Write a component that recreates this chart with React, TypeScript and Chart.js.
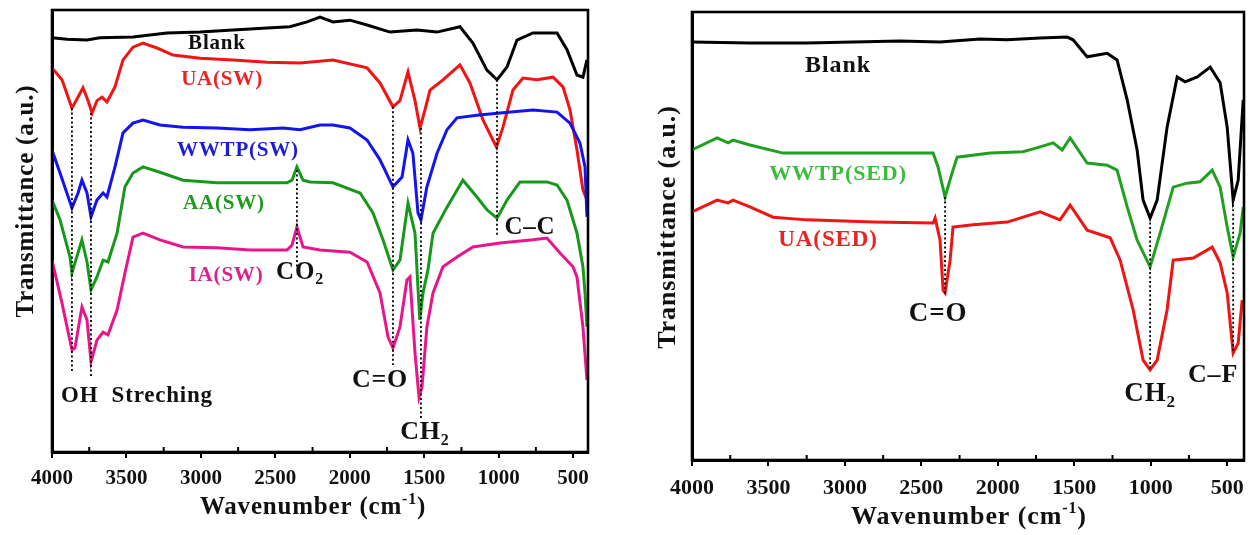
import React, { useEffect, useRef } from "react";
import { Chart, registerables } from "chart.js";

Chart.register(...registerables);

type Pt = [number, number];

// x-axis ticks (wavenumber, cm-1)
const X_MAJOR_TICKS = [500, 1000, 1500, 2000, 2500, 3000, 3500, 4000];
const X_MINOR_TICKS = [750, 1250, 1750, 2250, 2750, 3250, 3750];

// ---------- Left panel: sea-water samples  [wavenumber, transmittance (a.u.)] ----------
const SW_BLANK: Pt[] = [
  [4000, 93.7], [3899, 93.4], [3765, 93.2], [3678, 93.7], [3456, 93.9], [3228, 94.8], [3006, 95.0],
  [2784, 95.5], [2556, 95.9], [2402, 96.2], [2287, 97.3], [2200, 98.4], [2113, 97.3], [1999, 97.7],
  [1884, 96.6], [1730, 95.0], [1549, 95.5], [1414, 95.0], [1260, 96.2], [1173, 92.5], [1079, 86.4],
  [1011, 84.2], [944, 87.1], [877, 93.2], [770, 94.8], [608, 94.8], [541, 91.0], [474, 85.3],
  [434, 84.8], [407, 88.7],
];
const SW_UA: Pt[] = [
  [4000, 86.9], [3933, 84.2], [3866, 77.8], [3825, 80.3], [3792, 82.4], [3758, 79.5], [3731, 76.7],
  [3698, 79.5], [3664, 80.3], [3631, 79.2], [3577, 82.6], [3523, 88.7], [3456, 91.6], [3389, 92.5],
  [3295, 91.4], [3187, 89.8], [3006, 89.1], [2784, 88.7], [2556, 88.2], [2334, 88.0], [2113, 88.7],
  [1884, 86.9], [1797, 83.5], [1710, 78.1], [1663, 79.5], [1609, 86.0], [1562, 79.5], [1528, 73.3],
  [1495, 77.4], [1461, 81.9], [1374, 84.2], [1260, 87.6], [1193, 83.5], [1105, 75.1], [1015, 69.0],
  [971, 73.5], [904, 81.9], [837, 84.6], [743, 84.2], [635, 84.8], [568, 82.6], [521, 77.4],
  [474, 68.3], [434, 59.3], [407, 57.0],
];
const SW_WWTP: Pt[] = [
  [4000, 68.3], [3946, 63.1], [3866, 55.2], [3825, 58.6], [3799, 61.5], [3765, 58.6], [3738, 53.2],
  [3698, 57.0], [3657, 58.6], [3631, 57.7], [3577, 64.5], [3523, 72.2], [3456, 74.4], [3389, 75.1],
  [3275, 74.0], [3120, 73.5], [2892, 73.3], [2670, 72.9], [2449, 73.3], [2334, 72.9], [2200, 74.0],
  [2113, 74.0], [1999, 73.3], [1884, 70.6], [1797, 66.1], [1710, 60.0], [1649, 62.2], [1609, 70.6],
  [1576, 67.6], [1542, 54.1], [1522, 52.5], [1482, 60.0], [1414, 67.6], [1347, 72.9], [1280, 75.6],
  [1146, 76.2], [991, 76.7], [770, 77.4], [608, 76.9], [521, 74.4], [454, 69.9], [420, 64.5],
  [407, 53.2],
];
const SW_AA: Pt[] = [
  [4000, 57.0], [3946, 52.5], [3879, 44.1], [3866, 40.5], [3799, 48.0], [3765, 43.0], [3738, 36.7],
  [3698, 39.6], [3657, 43.4], [3624, 43.0], [3563, 49.5], [3510, 60.0], [3456, 63.1], [3389, 64.5],
  [3275, 63.3], [3120, 61.5], [2892, 60.9], [2670, 60.9], [2422, 60.9], [2388, 61.5], [2355, 64.5],
  [2314, 61.5], [2267, 61.1], [2113, 60.9], [1931, 58.6], [1844, 54.1], [1777, 48.0], [1710, 41.2],
  [1663, 43.4], [1609, 56.3], [1562, 49.5], [1530, 29.9], [1508, 36.0], [1475, 41.2], [1441, 49.5],
  [1347, 55.4], [1240, 61.5], [1146, 57.7], [1079, 54.8], [1011, 52.9], [944, 57.0], [857, 61.1],
  [770, 61.1], [676, 61.1], [608, 60.4], [541, 57.0], [474, 49.5], [434, 41.9], [420, 36.0],
  [407, 28.3],
];
const SW_IA: Pt[] = [
  [4000, 43.4], [3933, 33.7], [3866, 23.1], [3846, 23.5], [3799, 32.8], [3765, 29.9], [3738, 20.4],
  [3698, 25.3], [3657, 27.1], [3624, 26.5], [3563, 32.1], [3510, 40.5], [3456, 48.6], [3389, 49.5],
  [3275, 48.0], [3120, 46.4], [2892, 46.2], [2670, 45.7], [2422, 45.7], [2388, 46.8], [2355, 50.9],
  [2314, 46.4], [2200, 45.7], [1999, 45.2], [1884, 43.0], [1797, 36.0], [1743, 26.0], [1710, 23.5],
  [1663, 28.3], [1616, 38.9], [1596, 39.6], [1562, 22.4], [1535, 12.4], [1515, 14.7], [1482, 28.3],
  [1441, 36.0], [1374, 41.9], [1280, 44.1], [1173, 46.4], [991, 47.3], [770, 48.0], [676, 48.4],
  [588, 45.0], [501, 41.9], [474, 39.6], [434, 28.3], [407, 16.3],
];
// dotted peak markers: wavenumber, top and bottom transmittance
const SW_MARK_WN = [3866, 3738, 2355, 1710, 1522, 1011];
const SW_MARK_TOP = [77.8, 76.7, 63.8, 78.1, 73.3, 84.2];
const SW_MARK_BOTTOM = [17.9, 16.7, 41.9, 19.7, 7.7, 48.6];

// ---------- Right panel: sediment samples ----------
const SED_BLANK: Pt[] = [
  [4000, 93.3], [3621, 93.1], [3248, 93.1], [2639, 93.5], [2378, 93.3], [2116, 94.0], [1939, 93.8],
  [1723, 94.2], [1547, 94.4], [1508, 93.8], [1416, 90.0], [1285, 90.8], [1220, 89.3], [1154, 80.4],
  [1089, 69.2], [1050, 58.0], [1004, 54.0], [958, 58.0], [893, 74.3], [827, 85.5], [775, 84.4],
  [696, 85.5], [611, 87.7], [546, 84.2], [500, 74.3], [461, 58.0], [428, 62.5], [402, 76.6],
  [395, 80.4],
];
const SED_WWTP: Pt[] = [
  [4000, 69.2], [3836, 71.9], [3764, 70.8], [3732, 71.4], [3621, 70.3], [3405, 68.5], [3078, 68.5],
  [2423, 68.5], [2391, 65.4], [2345, 58.7], [2299, 64.1], [2266, 67.6], [2050, 68.5], [1835, 68.8],
  [1723, 69.9], [1638, 70.8], [1579, 69.2], [1527, 71.9], [1416, 66.3], [1285, 65.8], [1220, 64.7],
  [1154, 56.5], [1089, 49.1], [1004, 43.1], [938, 50.7], [853, 60.9], [762, 61.8], [677, 62.1],
  [598, 64.7], [546, 60.9], [500, 52.0], [461, 45.3], [415, 50.7], [395, 56.5],
];
const SED_UA: Pt[] = [
  [4000, 55.4], [3836, 58.0], [3764, 57.4], [3732, 58.0], [3621, 56.5], [3470, 54.2], [3248, 53.6],
  [2816, 53.1], [2423, 52.9], [2410, 54.0], [2378, 49.1], [2358, 37.9], [2345, 37.3], [2312, 44.6],
  [2293, 52.0], [2162, 52.5], [1939, 53.1], [1723, 55.4], [1593, 53.6], [1527, 56.9], [1416, 51.3],
  [1265, 49.6], [1200, 44.6], [1115, 33.5], [1050, 22.3], [1004, 20.1], [958, 22.3], [893, 33.5],
  [853, 44.6], [722, 45.1], [598, 47.5], [546, 44.0], [500, 37.3], [461, 23.9], [428, 26.1],
  [402, 35.7],
];
const SED_MARK_WN = [2345, 1004, 461];
const SED_MARK_TOP = [58.7, 54.0, 58.0];
const SED_MARK_BOTTOM = [36.8, 20.1, 24.1];

const SERIF = "'Liberation Serif', 'Times New Roman', serif";

interface Label { text: string; wn: number; t: number; color: string; size: number; }
interface Series { data: Pt[]; color: string; order: number; }
interface PanelSpec {
  left: number; width: number; height: number;
  padTop: number; padRight: number; yAxisWidth: number; xAxisHeight: number;
  xMin: number; tickSize: number; tickPad: number; titleSize: number; spacing: number;
  series: Series[];
  markWn: number[]; markTop: number[]; markBottom: number[];
  labels: Label[];
  xTitle: { x: number; y: number }; yTitle: { x: number; y: number };
}

const LEFT: PanelSpec = {
  left: 0, width: 630, height: 535,
  padTop: 10, padRight: 42, yAxisWidth: 52, xAxisHeight: 83,
  xMin: 400, tickSize: 21, tickPad: 8, titleSize: 25, spacing: 0.8,
  series: [
    { data: SW_BLANK, color: "#000000", order: 5 },
    { data: SW_UA, color: "#f01414", order: 4 },
    { data: SW_WWTP, color: "#1414f0", order: 3 },
    { data: SW_AA, color: "#18981a", order: 2 },
    { data: SW_IA, color: "#e8168a", order: 1 },
  ],
  markWn: SW_MARK_WN, markTop: SW_MARK_TOP, markBottom: SW_MARK_BOTTOM,
  labels: [
    { text: "Blank", wn: 2892, t: 92.5, color: "#111111", size: 21 },
    { text: "UA(SW)", wn: 2858, t: 84.2, color: "#e82424", size: 21 },
    { text: "WWTP(SW)", wn: 2751, t: 68.3, color: "#1c1cd8", size: 21 },
    { text: "AA(SW)", wn: 2845, t: 56.3, color: "#1e9a1e", size: 21 },
    { text: "IA(SW)", wn: 2831, t: 40.0, color: "#e0208a", size: 21 },
    { text: "CO_{2}", wn: 2334, t: 40.7, color: "#111111", size: 25 },
    { text: "OH  Streching", wn: 3429, t: 12.7, color: "#111111", size: 23 },
    { text: "C=O", wn: 1797, t: 16.3, color: "#111111", size: 26 },
    { text: "CH_{2}", wn: 1495, t: 4.5, color: "#111111", size: 26 },
    { text: "C–C", wn: 790, t: 50.7, color: "#111111", size: 25 },
  ],
  xTitle: { x: 313, y: 508 }, yTitle: { x: 27, y: 201 },
};

const RIGHT: PanelSpec = {
  left: 630, width: 629, height: 535,
  padTop: 12, padRight: 15, yAxisWidth: 62, xAxisHeight: 75,
  xMin: 390, tickSize: 22, tickPad: 9, titleSize: 26, spacing: 0.9,
  series: [
    { data: SED_BLANK, color: "#000000", order: 3 },
    { data: SED_WWTP, color: "#20a020", order: 2 },
    { data: SED_UA, color: "#f01414", order: 1 },
  ],
  markWn: SED_MARK_WN, markTop: SED_MARK_TOP, markBottom: SED_MARK_BOTTOM,
  labels: [
    { text: "Blank", wn: 3045, t: 87.9, color: "#111111", size: 24 },
    { text: "WWTP(SED)", wn: 3045, t: 63.8, color: "#3cbc3c", size: 22 },
    { text: "UA(SED)", wn: 3110, t: 49.1, color: "#e82424", size: 23 },
    { text: "C=O", wn: 2391, t: 32.6, color: "#111111", size: 27 },
    { text: "CH_{2}", wn: 1004, t: 14.7, color: "#111111", size: 27 },
    { text: "C–F", wn: 592, t: 19.0, color: "#111111", size: 26 },
  ],
  xTitle: { x: 339, y: 517 }, yTitle: { x: 38, y: 227 },
};

function drawRich(
  ctx: CanvasRenderingContext2D, text: string, x: number, y: number,
  size: number, color: string, spacing: number
) {
  const parts: { t: string; k: number }[] = [];
  const re = /([_^])\{([^}]*)\}/g;
  let last = 0;
  let m: RegExpExecArray | null;
  while ((m = re.exec(text))) {
    if (m.index > last) parts.push({ t: text.slice(last, m.index), k: 0 });
    parts.push({ t: m[2], k: m[1] === "_" ? 1 : -1 });
    last = re.lastIndex;
  }
  if (last < text.length) parts.push({ t: text.slice(last), k: 0 });
  const c: any = ctx;
  c.letterSpacing = `${spacing}px`;
  const fontFor = (k: number) => `bold ${k ? Math.round(size * 0.62) : size}px ${SERIF}`;
  let total = 0;
  const widths = parts.map((p) => {
    ctx.font = fontFor(p.k);
    const w = ctx.measureText(p.t).width;
    total += w;
    return w;
  });
  let cx = x - total / 2;
  ctx.fillStyle = color;
  ctx.textBaseline = "middle";
  ctx.textAlign = "left";
  parts.forEach((p, i) => {
    ctx.font = fontFor(p.k);
    ctx.fillText(p.t, cx, y + p.k * size * 0.33);
    cx += widths[i];
  });
  c.letterSpacing = "0px";
}

function Panel({ spec }: { spec: PanelSpec }) {
  const ref = useRef<HTMLCanvasElement | null>(null);
  useEffect(() => {
    if (!ref.current) return;
    const decor = {
      id: "decor",
      afterDatasetsDraw(chart: any) {
        const { ctx, chartArea: a, scales } = chart;
        const x = scales.x;
        const y = scales.y;
        ctx.save();
        ctx.strokeStyle = "#000";
        ctx.lineWidth = 2.6;
        ctx.strokeRect(a.left, a.top, a.right - a.left, a.bottom - a.top);
        ctx.lineWidth = 2;
        X_MINOR_TICKS.forEach((v) => {
          const px = x.getPixelForValue(v);
          ctx.beginPath();
          ctx.moveTo(px, a.bottom);
          ctx.lineTo(px, a.bottom - 5);
          ctx.stroke();
        });
        spec.labels.forEach((l) =>
          drawRich(ctx, l.text, x.getPixelForValue(l.wn), y.getPixelForValue(l.t), l.size, l.color, spec.spacing)
        );
        drawRich(ctx, "Wavenumber (cm^{-1})", spec.xTitle.x, spec.xTitle.y, spec.titleSize, "#111", spec.spacing);
        ctx.translate(spec.yTitle.x, spec.yTitle.y);
        ctx.rotate(-Math.PI / 2);
        drawRich(ctx, "Transmittance (a.u.)", 0, 0, spec.titleSize, "#111", spec.spacing);
        ctx.restore();
      },
    };
    const datasets: any[] = [];
    spec.markWn.forEach((wn, i) => {
      datasets.push({
        data: [{ x: wn, y: spec.markTop[i] }, { x: wn, y: spec.markBottom[i] }],
        borderColor: "#000",
        borderWidth: 1.8,
        borderDash: [2, 2.5],
        pointRadius: 0,
        fill: false,
        order: 0,
      });
    });
    spec.series.forEach((s) => {
      datasets.push({
        data: s.data.map(([wn, t]) => ({ x: wn, y: t })),
        borderColor: s.color,
        borderWidth: 3,
        pointRadius: 0,
        tension: 0,
        fill: false,
        order: s.order,
      });
    });
    const chart = new Chart(ref.current, {
      type: "line",
      data: { datasets },
      options: {
        animation: false,
        responsive: false,
        maintainAspectRatio: false,
        layout: { padding: { left: 0, right: spec.padRight, top: spec.padTop, bottom: 0 } },
        plugins: { legend: { display: false }, tooltip: { enabled: false } },
        scales: {
          x: {
            type: "linear",
            reverse: true,
            min: spec.xMin,
            max: 4000,
            afterBuildTicks: (s: any) => {
              s.ticks = X_MAJOR_TICKS.map((v) => ({ value: v }));
            },
            afterFit: (s: any) => {
              s.height = spec.xAxisHeight;
            },
            ticks: {
              autoSkip: false,
              maxRotation: 0,
              padding: spec.tickPad,
              color: "#111",
              font: { family: SERIF, size: spec.tickSize, weight: "bold" },
              callback: (v: any) => String(v),
            },
            grid: { display: true, drawOnChartArea: false, drawTicks: true, tickLength: 6, color: "#000", lineWidth: 2 },
            border: { display: true, color: "#000", width: 3 },
          },
          y: {
            type: "linear",
            min: 0,
            max: 100,
            afterFit: (s: any) => {
              s.width = spec.yAxisWidth;
            },
            ticks: { display: false },
            grid: { display: false },
            border: { display: true, color: "#000", width: 3 },
          },
        },
      } as any,
      plugins: [decor],
    });
    return () => chart.destroy();
  }, [spec]);
  return (
    <canvas
      ref={ref}
      width={spec.width}
      height={spec.height}
      style={{ position: "absolute", left: spec.left, top: 0, width: spec.width, height: spec.height }}
    />
  );
}

export default function App() {
  return (
    <div style={{ position: "fixed", left: 0, top: 0, width: 1259, height: 535, background: "#fff", overflow: "hidden" }}>
      <Panel spec={LEFT} />
      <Panel spec={RIGHT} />
    </div>
  );
}
